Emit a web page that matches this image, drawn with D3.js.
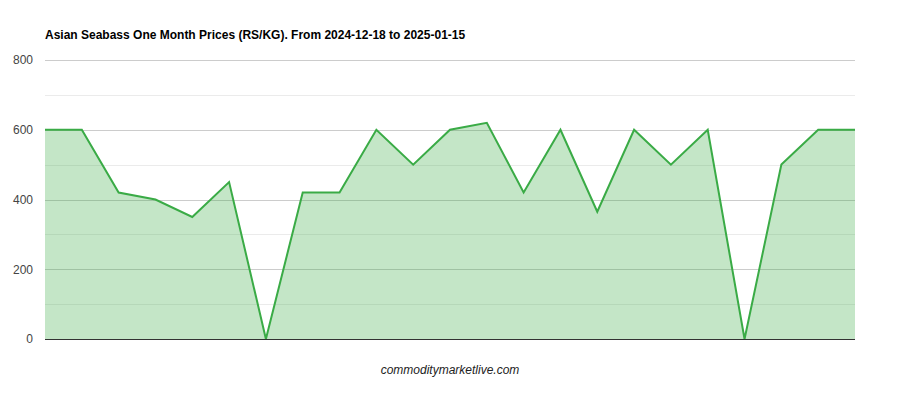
<!DOCTYPE html>
<html>
<head>
<meta charset="utf-8">
<title>Asian Seabass One Month Prices</title>
<script src="https://d3js.org/d3.v7.min.js"></script>
<style>
  body { margin: 0; background: #fff; }
  svg { font-family: Arial, "Liberation Sans", sans-serif; }
</style>
</head>
<body>
<div class="chart"></div>
<script>
// values, one point per day (23 points)
const days = d3.range(23);
const prices = [600, 600, 420, 400, 350, 450, 0, 420, 420, 600, 500, 600, 620,
                420, 600, 365, 600, 500, 600, 0, 500, 600, 600];
const yTicks = [0, 200, 400, 600, 800];
const yMinor = [100, 300, 500, 700];
const title = "Asian Seabass One Month Prices (RS/KG). From 2024-12-18 to 2025-01-15";
const footer = "commoditymarketlive.com";

const W = 900, H = 400;
const margin = {top: 60, left: 45, right: 45, bottom: 61};
const width = W - margin.left - margin.right;
const height = H - margin.top - margin.bottom;

const svg = d3.select('.chart')
    .append('svg')
    .attr('width', W)
    .attr('height', H);

svg.append('text')
    .attr('x', 45)
    .attr('y', 39)
    .attr('font-size', 12)
    .attr('font-weight', 'bold')
    .attr('fill', '#000')
    .text(title);

const g = svg.append('g')
    .attr('transform', `translate(${margin.left},${margin.top})`);

const xScale = d3.scaleLinear()
    .domain([0, days.length - 1])
    .range([0, width]);

const yScale = d3.scaleLinear()
    .domain([0, 800])
    .range([height, 0]);

// minor gridlines
g.selectAll('.minor')
    .data(yMinor)
    .enter()
    .append('line')
    .attr('x1', 0).attr('x2', width)
    .attr('y1', d => Math.round(yScale(d)) + 0.5)
    .attr('y2', d => Math.round(yScale(d)) + 0.5)
    .attr('stroke', '#ebebeb');

// major gridlines
g.selectAll('.major')
    .data(yTicks.filter(d => d > 0))
    .enter()
    .append('line')
    .attr('x1', 0).attr('x2', width)
    .attr('y1', d => Math.round(yScale(d)) + 0.5)
    .attr('y2', d => Math.round(yScale(d)) + 0.5)
    .attr('stroke', '#cccccc');

const area = d3.area()
    .x((d, i) => xScale(i))
    .y0(yScale(0))
    .y1(d => yScale(d));

const line = d3.line()
    .x((d, i) => xScale(i))
    .y(d => yScale(d));

g.append('path')
    .datum(prices)
    .attr('d', area)
    .attr('fill', '#3aab46')
    .attr('fill-opacity', 0.3);

g.append('path')
    .datum(prices)
    .attr('d', line)
    .attr('fill', 'none')
    .attr('stroke', '#3aab46')
    .attr('stroke-width', 2)
    .attr('stroke-linejoin', 'miter');

// baseline
g.append('line')
    .attr('x1', 0).attr('x2', width)
    .attr('y1', Math.round(yScale(0)) + 0.5)
    .attr('y2', Math.round(yScale(0)) + 0.5)
    .attr('stroke', '#333');

const yAxis = d3.axisLeft(yScale)
    .tickValues(yTicks)
    .tickSize(0)
    .tickPadding(12);

g.append('g')
    .attr('class', 'axis y-axis')
    .call(yAxis)
    .call(a => a.select('.domain').remove())
    .call(a => a.selectAll('text')
        .attr('font-size', 12)
        .attr('font-family', 'Arial, "Liberation Sans", sans-serif')
        .attr('fill', '#444'));

svg.append('text')
    .attr('x', 450)
    .attr('y', 374)
    .attr('text-anchor', 'middle')
    .attr('font-size', 12)
    .attr('font-style', 'italic')
    .attr('fill', '#222')
    .text(footer);
</script>
</body>
</html>
